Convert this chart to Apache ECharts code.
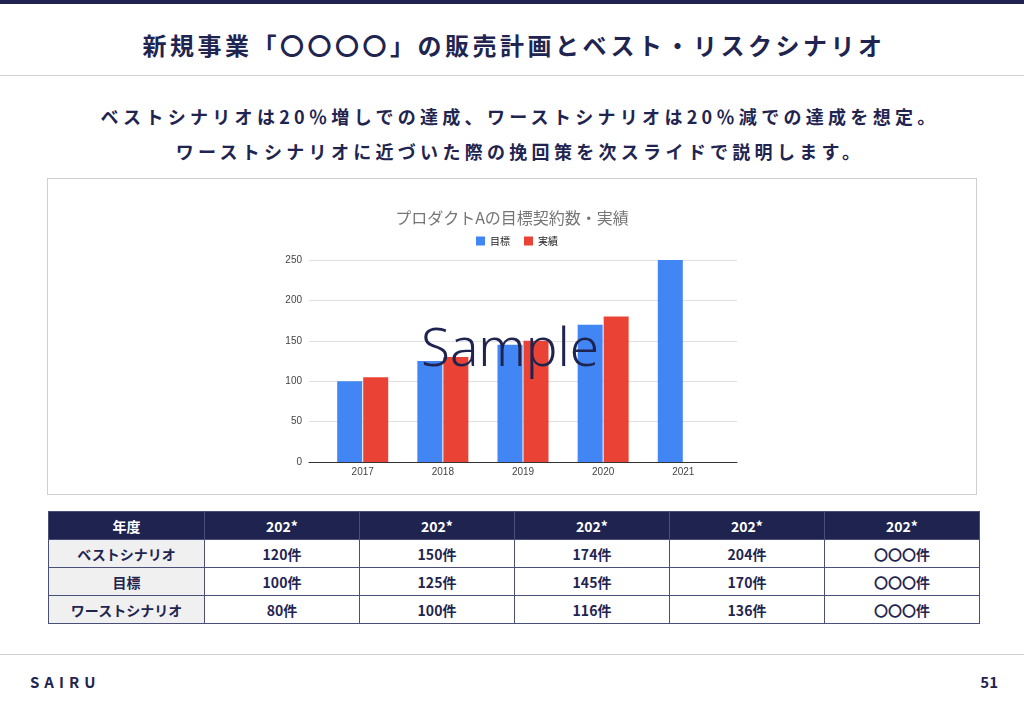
<!DOCTYPE html>
<html>
<head>
<meta charset="utf-8">
<script src="https://cdn.jsdelivr.net/npm/echarts@6/dist/echarts.min.js"></script>
<style>
  html, body { margin:0; padding:0; background:#fff; }
  body { width:1024px; height:709px; position:relative; overflow:hidden; font-family:"Noto Sans CJK JP","Noto Sans",sans-serif; color:#1f2550; }
  .topbar { position:absolute; left:0; top:0; width:1024px; height:4px; background:#1e2350; }
  .title { position:absolute; left:0; top:28px; width:1028px; text-align:center; font-size:24px; font-weight:700; letter-spacing:3.5px; line-height:34px; }
  .hline1 { position:absolute; left:0; top:75px; width:1024px; height:1px; background:#d4d4d4; }
  .sub { position:absolute; left:0; width:1040px; text-align:center; font-size:18px; font-weight:700; letter-spacing:4.3px; line-height:26px; }
  .box { position:absolute; left:47px; top:178px; width:928px; height:315px; border:1.5px solid #d0d0d0; }
  table { position:absolute; left:48px; top:511px; border-collapse:collapse; table-layout:fixed; }
  td, th { border:1.5px solid #4a4f78; height:27px; padding:0; text-align:center; font-size:14px; font-weight:700; }
  th { background:#1e2350; color:#fff; }
  td { color:#1f2550; background:#fff; }
  td.first { background:#f0f0f0; }
  .hline2 { position:absolute; left:0; top:654px; width:1024px; height:1px; background:#cfcfcf; }
  .brand { position:absolute; left:30px; top:672px; font-size:15px; font-weight:700; letter-spacing:5px; line-height:20px; }
  .page { position:absolute; right:26px; top:672px; font-size:15px; font-weight:700; line-height:20px; }
  #chart { position:absolute; left:0; top:0; width:1024px; height:709px; }
</style>
</head>
<body>
<div class="topbar"></div>
<div class="title">新規事業「〇〇〇〇」の販売計画とベスト・リスクシナリオ</div>
<div class="hline1"></div>
<div class="sub" style="top:103px;">ベストシナリオは20％増しでの達成、ワーストシナリオは20％減での達成を想定。</div>
<div class="sub" style="top:138px;">ワーストシナリオに近づいた際の挽回策を次スライドで説明します。</div>
<div class="box"></div>
<table id="tbl"></table>
<div class="hline2"></div>
<div class="brand">SAIRU</div>
<div class="page">51</div>
<div id="chart"></div>
<script>
// ---- chart data ----
const years = ['2017', '2018', '2019', '2020', '2021'];
const targetValues = [100, 125, 145, 170, 250];
const actualValues = [105, 130, 150, 180, null];
const seriesNames = ['目標', '実績'];
const yTicks = [0, 50, 100, 150, 200, 250];
const chartTitle = 'プロダクトAの目標契約数・実績';
const watermark = 'Sample';

// ---- table data ----
const tableHeader = ['年度', '202*', '202*', '202*', '202*', '202*'];
const rowLabels = ['ベストシナリオ', '目標', 'ワーストシナリオ'];
const bestRow = ['120件', '150件', '174件', '204件', '〇〇〇件'];
const targetRow = ['100件', '125件', '145件', '170件', '〇〇〇件'];
const worstRow = ['80件', '100件', '116件', '136件', '〇〇〇件'];

// build table
(function () {
  const tbl = document.getElementById('tbl');
  const colW = [156, 155, 155, 155, 155, 155];
  let html = '<colgroup>' + colW.map(w => '<col style="width:' + w + 'px">').join('') + '</colgroup>';
  html += '<tr>' + tableHeader.map(h => '<th>' + h + '</th>').join('') + '</tr>';
  [bestRow, targetRow, worstRow].forEach((r, i) => {
    html += '<tr><td class="first">' + rowLabels[i] + '</td>' + r.map(v => '<td>' + v + '</td>').join('') + '</tr>';
  });
  tbl.innerHTML = html;
})();

const yearNums = years.map(Number);
const chart = echarts.init(document.getElementById('chart'), null, { renderer: 'canvas' });
chart.setOption({
  backgroundColor: 'transparent',
  animation: false,
  textStyle: { fontFamily: '"Liberation Sans", Arial, sans-serif' },
  title: {
    text: chartTitle,
    left: 'center',
    top: 205,
    textStyle: { fontSize: 16, fontWeight: 'normal', color: '#757575', fontFamily: '"Noto Sans CJK JP", sans-serif' }
  },
  legend: {
    data: seriesNames,
    left: 471,
    top: 231,
    itemWidth: 9,
    itemHeight: 9,
    itemGap: 14,
    icon: 'rect',
    textStyle: { fontSize: 10, color: '#222', fontFamily: '"Noto Sans CJK JP", sans-serif' }
  },
  grid: { left: 309, right: 287, top: 260, bottom: 247, containLabel: false },
  xAxis: {
    type: 'value',
    min: 2016.33,
    max: 2021.67,
    axisLine: { show: true, lineStyle: { color: '#333', width: 1 } },
    axisTick: { show: false },
    splitLine: { show: false },
    axisLabel: { customValues: yearNums, formatter: v => String(Math.round(v)), fontSize: 10, color: '#444', margin: 5 }
  },
  yAxis: {
    type: 'value',
    min: yTicks[0],
    max: yTicks[yTicks.length - 1],
    interval: 50,
    axisLine: { show: false },
    axisTick: { show: false },
    splitLine: { lineStyle: { color: '#e0e0e0', width: 1 } },
    axisLabel: { fontSize: 10, color: '#444', margin: 7 }
  },
  series: [
    {
      name: seriesNames[0],
      type: 'bar',
      barWidth: 25,
      barGap: '4%',
      itemStyle: { color: '#4285F4' },
      data: yearNums.map((y, i) => [y, targetValues[i]])
    },
    {
      name: seriesNames[1],
      type: 'bar',
      barWidth: 25,
      barGap: '4%',
      itemStyle: { color: '#EA4335' },
      data: yearNums.map((y, i) => [y, actualValues[i]])
    }
  ],
  graphic: [{
    type: 'text',
    left: 421,
    top: 324,
    z: 100,
    style: {
      text: watermark,
      fontSize: 53,
      fontWeight: 300,
      fontFamily: '"Noto Sans", "Open Sans", sans-serif',
      fill: '#1e2350'
    }
  }]
});
</script>
</body>
</html>
